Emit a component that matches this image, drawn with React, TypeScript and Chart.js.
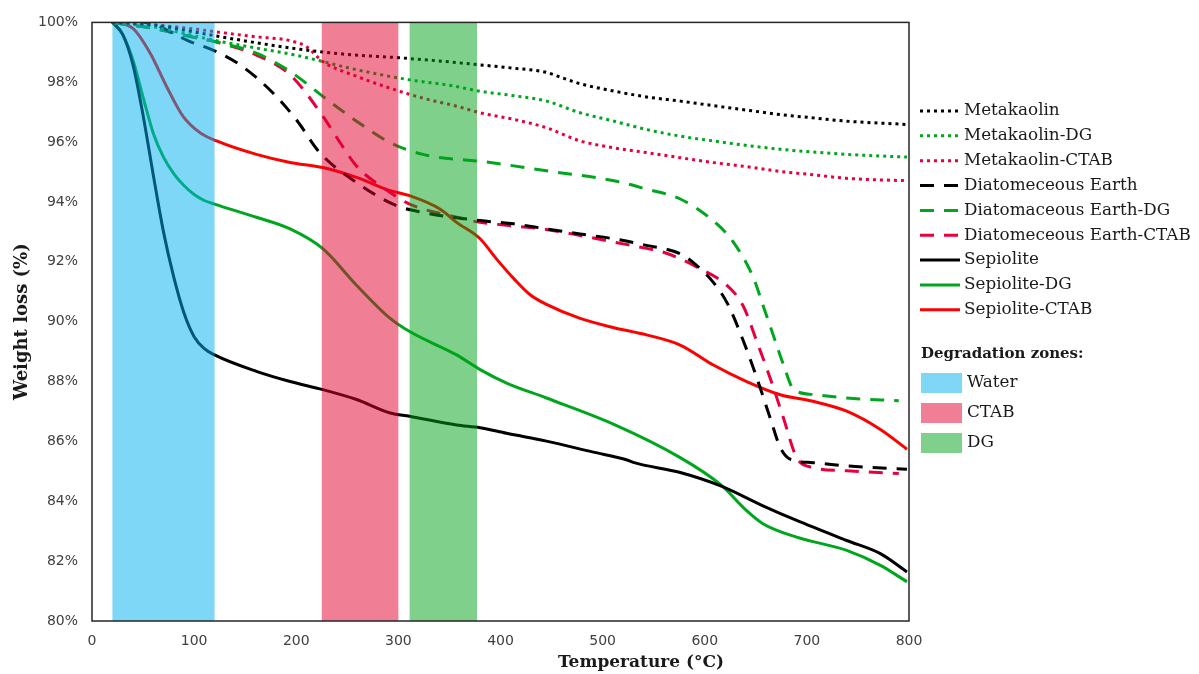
import React, { useEffect, useRef } from "react";
import { Chart, registerables } from "chart.js";

Chart.register(...registerables);

// ---------- DATA ----------
const mkT = [20, 60, 100, 150, 200, 250, 300, 350, 380, 413, 445, 461, 478, 500, 543, 576, 608, 641, 674, 706, 739, 798];
const mkW = [100, 99.92, 99.68, 99.38, 99.12, 98.93, 98.82, 98.68, 98.58, 98.47, 98.33, 98.14, 97.95, 97.78, 97.51, 97.37, 97.22, 97.07, 96.92, 96.81, 96.7, 96.59];

const mkDgT = [20, 60, 100, 120, 160, 200, 259, 311, 350, 380, 413, 445, 478, 511, 543, 576, 608, 641, 674, 706, 739, 798];
const mkDgW = [100, 99.85, 99.55, 99.4, 99.15, 98.9, 98.42, 98.08, 97.9, 97.7, 97.55, 97.37, 96.98, 96.7, 96.42, 96.2, 96.04, 95.89, 95.76, 95.67, 95.59, 95.5];

const mkCtT = [20, 60, 100, 120, 160, 194, 210, 226, 259, 292, 324, 357, 380, 413, 445, 478, 511, 543, 576, 608, 641, 674, 706, 739, 798];
const mkCtW = [100, 99.92, 99.78, 99.69, 99.52, 99.39, 99.19, 98.69, 98.2, 97.8, 97.47, 97.2, 96.98, 96.76, 96.48, 96.04, 95.81, 95.65, 95.48, 95.32, 95.18, 95.02, 94.91, 94.79, 94.71];

const deT = [20, 52, 96, 120, 145, 174, 200, 223, 259, 298, 324, 380, 413, 445, 478, 511, 543, 576, 592, 608, 622, 638, 651, 664, 674, 684, 706, 739, 798];
const deW = [100.05, 100, 99.36, 99.05, 98.58, 97.75, 96.75, 95.65, 94.65, 93.88, 93.65, 93.38, 93.27, 93.1, 92.93, 92.77, 92.55, 92.27, 91.88, 91.33, 90.62, 89.34, 88.12, 86.79, 85.79, 85.4, 85.29, 85.18, 85.07];

const deDgT = [20, 60, 100, 120, 161, 194, 226, 259, 292, 324, 390, 445, 511, 543, 576, 608, 628, 648, 657, 667, 677, 687, 706, 739, 790];
const deDgW = [100, 99.8, 99.5, 99.36, 98.97, 98.36, 97.53, 96.7, 95.98, 95.59, 95.32, 95.04, 94.71, 94.43, 94.1, 93.38, 92.66, 91.44, 90.55, 89.56, 88.57, 87.74, 87.57, 87.45, 87.36];

const deCtT = [20, 60, 100, 120, 161, 194, 226, 243, 259, 292, 311, 357, 380, 413, 445, 478, 511, 543, 559, 592, 625, 638, 651, 664, 677, 690, 706, 739, 790];
const deCtW = [100, 99.8, 99.5, 99.36, 98.91, 98.25, 96.87, 95.98, 95.2, 94.32, 93.93, 93.49, 93.32, 93.2, 93.08, 92.88, 92.66, 92.45, 92.33, 91.83, 91.11, 90.5, 89.34, 88.12, 86.79, 85.46, 85.13, 85.02, 84.93];

const sepT = [20, 30, 40, 50, 60, 70, 80, 90, 100, 110, 120, 161, 194, 226, 259, 292, 311, 357, 380, 406, 445, 490, 524, 530, 576, 615, 657, 690, 739, 772, 798];
const sepW = [100, 99.6, 98.6, 96.9, 94.9, 93.0, 91.5, 90.3, 89.5, 89.1, 88.89, 88.34, 88.0, 87.73, 87.4, 86.95, 86.84, 86.55, 86.46, 86.27, 86.01, 85.65, 85.38, 85.3, 84.96, 84.52, 83.85, 83.36, 82.69, 82.25, 81.64];

const sepDgT = [20, 30, 40, 50, 60, 70, 80, 90, 100, 110, 120, 161, 194, 226, 259, 292, 311, 357, 380, 406, 445, 511, 576, 615, 641, 657, 690, 739, 772, 798];
const sepDgW = [100, 99.6, 98.75, 97.5, 96.3, 95.5, 94.95, 94.55, 94.25, 94.05, 93.93, 93.49, 93.1, 92.44, 91.22, 90.11, 89.67, 88.89, 88.4, 87.95, 87.45, 86.57, 85.46, 84.57, 83.69, 83.25, 82.8, 82.36, 81.86, 81.31];

const sepCtT = [20, 40, 57, 73, 89, 106, 122, 161, 194, 226, 259, 292, 311, 341, 357, 380, 396, 413, 429, 445, 478, 511, 543, 576, 608, 641, 674, 706, 739, 772, 798];
const sepCtW = [100, 99.8, 98.97, 97.86, 96.87, 96.31, 96.04, 95.59, 95.32, 95.15, 94.82, 94.38, 94.21, 93.76, 93.32, 92.77, 92.1, 91.44, 90.9, 90.58, 90.11, 89.8, 89.56, 89.22, 88.56, 88.0, 87.56, 87.34, 87.01, 86.4, 85.74];

const seriesNames = [
  "Metakaolin",
  "Metakaolin-DG",
  "Metakaolin-CTAB",
  "Diatomeceous Earth",
  "Diatomaceous Earth-DG",
  "Diatomeceous Earth-CTAB",
  "Sepiolite",
  "Sepiolite-DG",
  "Sepiolite-CTAB",
];
const seriesT = [mkT, mkDgT, mkCtT, deT, deDgT, deCtT, sepT, sepDgT, sepCtT];
const seriesW = [mkW, mkDgW, mkCtW, deW, deDgW, deCtW, sepW, sepDgW, sepCtW];

const zoneNames = ["Water", "CTAB", "DG"];
const zoneStart = [20, 225, 311];
const zoneEnd = [120, 300, 377];

const xTicks = [0, 100, 200, 300, 400, 500, 600, 700, 800];
const yTicks = [80, 82, 84, 86, 88, 90, 92, 94, 96, 98, 100];

const xTitle = "Temperature (°C)";
const yTitle = "Weight loss (%)";
const zoneTitle = "Degradation zones:";

// ---------- STYLES ----------
const BLACK = "#000000";
const GREEN = "#00A61E";
const CRIMSON = "#E6003C";
const RED = "#FF0000";
const DOT = [3, 4];
const DASH = [14, 10];
const seriesColor = [BLACK, GREEN, CRIMSON, BLACK, GREEN, CRIMSON, BLACK, GREEN, RED];
const seriesDash = [DOT, DOT, DOT, DASH, DASH, DASH, [], [], []];
const zoneColor = ["rgba(0,176,240,0.5)", "rgba(225,0,45,0.5)", "rgba(0,161,21,0.5)"];

const SERIF = "'DejaVu Serif', serif";
const SANS = "'DejaVu Sans', sans-serif";
const TEXT = "#1a1a1a";

const overlayPlugin = {
  id: "overlay",
  afterDatasetsDraw(chart: any) {
    const { ctx, chartArea, scales } = chart;
    const xs = scales.x;
    ctx.save();
    for (let i = 0; i < zoneNames.length; i++) {
      const x1 = xs.getPixelForValue(zoneStart[i]);
      const x2 = xs.getPixelForValue(zoneEnd[i]);
      ctx.fillStyle = zoneColor[i];
      ctx.fillRect(x1, chartArea.top, x2 - x1, chartArea.bottom - chartArea.top);
    }
    ctx.strokeStyle = "#262626";
    ctx.lineWidth = 1.5;
    ctx.strokeRect(chartArea.left, chartArea.top, chartArea.right - chartArea.left, chartArea.bottom - chartArea.top);
    ctx.restore();
  },
  afterDraw(chart: any) {
    const { ctx } = chart;
    ctx.save();
    // x-axis title (offset to the right as in the original)
    ctx.font = `bold 17px ${SERIF}`;
    ctx.fillStyle = TEXT;
    ctx.textAlign = "center";
    ctx.textBaseline = "middle";
    ctx.fillText(xTitle, 641, 663);

    const lx1 = 920;
    const lx2 = 960;
    const tx = 964;
    ctx.font = `16.8px ${SERIF}`;
    ctx.textBaseline = "middle";
    ctx.textAlign = "left";
    for (let i = 0; i < seriesNames.length; i++) {
      const y = 111 + i * 24.85;
      ctx.beginPath();
      ctx.setLineDash(seriesDash[i]);
      ctx.strokeStyle = seriesColor[i];
      ctx.lineWidth = 3;
      ctx.moveTo(lx1, y);
      ctx.lineTo(lx2, y);
      ctx.stroke();
      ctx.setLineDash([]);
      ctx.fillStyle = TEXT;
      ctx.fillText(seriesNames[i], tx, y);
    }
    ctx.font = `bold 15px ${SERIF}`;
    ctx.fillStyle = TEXT;
    ctx.fillText(zoneTitle, 921, 354);
    ctx.font = `16.8px ${SERIF}`;
    for (let i = 0; i < zoneNames.length; i++) {
      const y = 383 + i * 30;
      ctx.fillStyle = "#ffffff";
      ctx.fillRect(921, y - 10, 41, 20);
      ctx.fillStyle = zoneColor[i];
      ctx.fillRect(921, y - 10, 41, 20);
      ctx.fillStyle = TEXT;
      ctx.fillText(zoneNames[i], 967, y);
    }
    ctx.restore();
  },
};

export default function App() {
  const ref = useRef<HTMLCanvasElement | null>(null);
  useEffect(() => {
    if (!ref.current) return;
    const datasets = seriesNames.map((name, i) => ({
      label: name,
      data: seriesT[i].map((t, j) => ({ x: t, y: seriesW[i][j] })),
      borderColor: seriesColor[i],
      backgroundColor: seriesColor[i],
      borderWidth: 3,
      borderDash: seriesDash[i],
      borderCapStyle: "butt" as const,
      pointRadius: 0,
      pointHoverRadius: 0,
      fill: false,
      cubicInterpolationMode: "monotone" as const,
    }));
    const chart = new Chart(ref.current, {
      type: "line",
      data: { datasets },
      options: {
        animation: false,
        responsive: false,
        maintainAspectRatio: false,
        devicePixelRatio: 1,
        layout: { padding: { left: 0, right: 290, top: 18, bottom: 0 } },
        plugins: { legend: { display: false }, tooltip: { enabled: false } },
        events: [],
        scales: {
          x: {
            type: "linear",
            min: 0,
            max: 800,
            afterFit: (s: any) => {
              s.height = 53;
            },
            afterBuildTicks: (s: any) => {
              s.ticks = xTicks.map((v) => ({ value: v }));
            },
            grid: { display: false, drawTicks: false },
            border: { display: false },
            ticks: {
              padding: 12,
              color: "#404040",
              font: { family: SANS, size: 14 },
              maxRotation: 0,
            },
            title: { display: false },
          },
          y: {
            type: "linear",
            min: 80,
            max: 100,
            afterFit: (s: any) => {
              s.width = 92;
            },
            afterBuildTicks: (s: any) => {
              s.ticks = yTicks.map((v) => ({ value: v }));
            },
            grid: { display: false, drawTicks: false },
            border: { display: false },
            ticks: {
              padding: 14,
              color: "#404040",
              font: { family: SANS, size: 14 },
              callback: (v: any) => `${v}%`,
            },
            title: {
              display: true,
              text: yTitle,
              color: TEXT,
              font: { family: SERIF, size: 18, weight: "bold" },
              padding: { top: 12, bottom: 0 },
            },
          },
        },
      },
      plugins: [overlayPlugin],
    });
    return () => chart.destroy();
  }, []);
  return (
    <div style={{ position: "absolute", left: 0, top: 0, width: 1199, height: 674, background: "#fff" }}>
      <canvas ref={ref} width={1199} height={674} style={{ width: 1199, height: 674, display: "block" }} />
    </div>
  );
}
